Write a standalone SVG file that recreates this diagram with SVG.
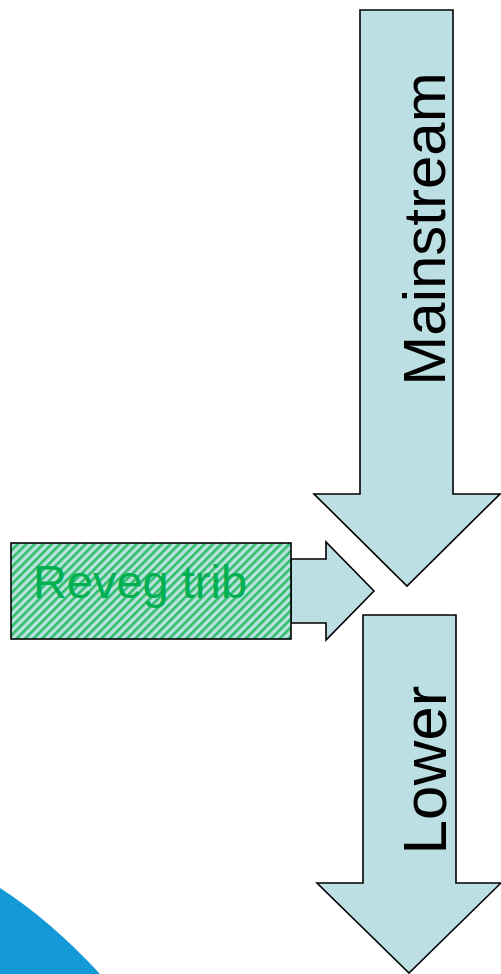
<svg xmlns="http://www.w3.org/2000/svg" width="501" height="974" viewBox="0 0 501 974">
<defs>
<style>
.arrow{fill:#bbdfe3;stroke:#000;stroke-width:1.6;stroke-linejoin:miter}
.lbl{font-family:"Liberation Sans",Arial,sans-serif;fill:#000}
</style>
<pattern id="hatch" width="6" height="6" patternUnits="userSpaceOnUse" patternTransform="rotate(45)">
<rect width="6" height="6" fill="#b9e2de"/>
<rect width="2.6" height="6" fill="#2dbd6b"/>
</pattern>
</defs>
<path id="corner" d="M0,888 Q50,920 100,974 L0,974 Z" fill="#1399d6"/>
<g id="connectors"></g>
<g id="mainstream">
<polygon class="arrow" points="360,10 453,10 453,494 500,494 407,586 314,494 360,494"/>
<text class="lbl" x="445" y="229" font-size="60" text-anchor="middle" transform="rotate(-90 445 229)">Mainstream</text>
</g>
<g id="trib-arrow">
<polygon class="arrow" points="291,559 326,559 326,542 374,591 326,640 326,623 291,623"/>
</g>
<g id="reveg-trib">
<rect x="11" y="543" width="280" height="96" fill="url(#hatch)" stroke="#000" stroke-width="1.6"/>
<text x="140" y="598" font-family="Liberation Sans, Arial, sans-serif" font-size="47" fill="#00b050" text-anchor="middle">Reveg trib</text>
</g>
<g id="lower">
<polygon class="arrow" points="363,615 456,615 456,883 501,883 409,973 317,883 363,883"/>
<text class="lbl" x="446" y="770" font-size="62" text-anchor="middle" transform="rotate(-90 446 770)">Lower</text>
</g>
</svg>
